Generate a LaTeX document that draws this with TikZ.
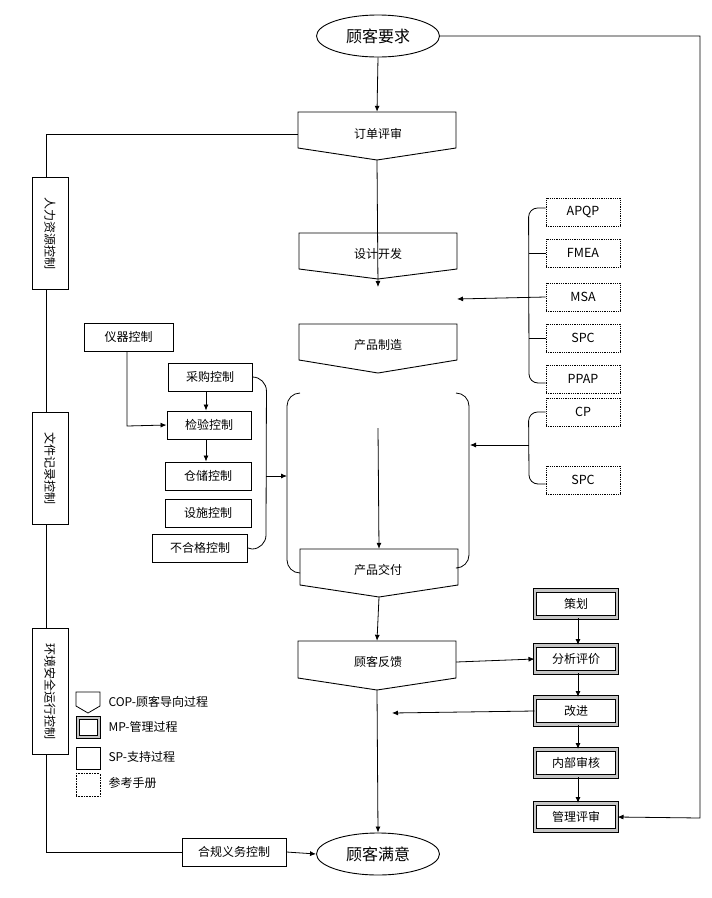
\documentclass[tikz,border=0pt]{standalone}
\usepackage{fontspec}
\setmainfont{Noto Sans CJK SC}
\usetikzlibrary{arrows.meta,shapes.geometric}
\tikzset{
  every node/.style={font=\fontsize{12}{14}\selectfont},
  ln/.style={line width=0.8pt},
  arr/.style={ln,-{Latex[length=6pt,width=5pt]}},
  sp/.style={draw,line width=0.9pt,minimum width=#1,minimum height=28pt,inner sep=0pt},
  ref/.style={draw,densely dotted,line width=0.8pt,minimum width=74pt,minimum height=28pt,inner sep=0pt,font=\fontsize{12.5}{14}\selectfont},
  mp/.style={draw,line width=1pt,double=gray!45,double distance=2.4pt,minimum width=82pt,minimum height=27pt,inner sep=0pt},
  ell/.style={draw,ellipse,line width=0.9pt,minimum width=123pt,minimum height=42pt,font=\fontsize{16}{18}\selectfont},
  vbox/.style={draw,line width=0.9pt,minimum width=36pt,inner sep=0pt},
}
\newcommand{\copshape}[6]{% name, x1, x2, ytop, yside, ypoint
  \draw[line width=0.9pt] (#2,#4) -- (#3,#4) -- (#3,#5) -- ({(#2+#3)/2},#6) -- (#2,#5) -- cycle;
  \node[inner sep=0pt,minimum width={#3-#2},minimum height={#6-#4}] (#1) at ({(#2+#3)/2},{(#4+#6)/2}) {};
}
\begin{document}
\begin{tikzpicture}[x=1pt,y=-1pt]
\useasboundingbox (0,0) rectangle (712,898);
\node[ell] (req) at (378,36) {顾客要求};
\node[ell] (sat) at (378,854) {顾客满意};
\copshape{ord}{298}{456}{112}{148}{160}
\node at (378,134) {订单评审};
\copshape{des}{299}{457}{233}{269}{279}
\node at (378,254) {设计开发};
\copshape{mfg}{299}{457}{324}{360}{373}
\node at (378,345) {产品制造};
\copshape{dlv}{300}{458}{549}{585}{597}
\node at (378,570) {产品交付};
\copshape{fb}{298}{456}{641}{678}{690}
\node at (378,662) {顾客反馈};
\draw[arr] (req.south) -- (ord.north);
\draw[arr] (ord.south) -- (378,287);
\coordinate (ctop) at (378,428);
\draw[arr] (ctop) -- (dlv.north);
\draw[arr] (dlv.south) -- (fb.north);
\draw[arr] (fb.south) -- (sat.north);
\node[ref] (apqp) at (583,212) {APQP};
\node[ref] (fmea) at (583,253) {FMEA};
\node[ref] (msa)  at (583,297) {MSA};
\node[ref] (spc1) at (583,338) {SPC};
\node[ref] (ppap) at (583,379) {PPAP};
\node[ref] (cp)   at (583,412) {CP};
\node[ref] (spc2) at (583,480) {SPC};
\draw[ln] (apqp.west) ++(0,-4) -- ++(-8,0) arc[start angle=90,end angle=180,radius=9pt] -- (529,374) arc[start angle=180,end angle=270,radius=9pt] -- (ppap.west|-0,383);
\draw[ln] (529,253) -- (fmea.west);
\draw[ln] (529,338) -- (spc1.west);
\coordinate (dpt) at (457,299);
\draw[arr] (msa.west) -- (dpt);
\draw[ln] (cp.west) -- ++(-8,0) arc[start angle=90,end angle=180,radius=9pt] -- (529,475) arc[start angle=180,end angle=270,radius=9pt] -- (spc2.west|-0,484);
\coordinate (rb) at (470,445);
\draw[arr] (529,445) -- (rb);
\draw[ln] (300,393) arc[start angle=90,end angle=180,radius=13pt] -- (287,560) arc[start angle=180,end angle=270,radius=13pt] -- (dlv.west|-0,573);
\draw[ln] (456,393) arc[start angle=90,end angle=0,radius=13pt] -- (469,555) arc[start angle=0,end angle=-90,radius=13pt] -- (dlv.east|-0,568);
\node[sp=89pt] (inst) at (128.5,337) {仪器控制};
\node[sp=84pt] (pur) at (210,377) {采购控制};
\node[sp=84pt] (insp) at (209,425) {检验控制};
\node[sp=86pt] (stor) at (208,476) {仓储控制};
\node[sp=86pt] (fac) at (208,513) {设施控制};
\node[sp=95pt] (ncr) at (200,548) {不合格控制};
\draw[arr] (inst.south-|127,0) -- (127,426) -- (insp.west);
\draw[arr] (pur.south-|206,0) -- (insp.north-|206,0);
\draw[arr] (insp.south-|206,0) -- (stor.north-|206,0);
\draw[ln] (pur.east) arc[start angle=90,end angle=0,radius=14pt] -- (266,535) arc[start angle=0,end angle=-90,radius=14pt] -- (ncr.east);
\coordinate (bl) at (287,476);
\draw[arr] (266,476) -- (bl);
\node[vbox,minimum height=112pt] (hr) at (50,233) {};
\node[rotate=-90] at (hr) {人力资源控制};
\node[vbox,minimum height=112pt] (doc) at (50,468) {};
\node[rotate=-90] at (doc) {文件记录控制};
\node[vbox,minimum height=126pt] (env) at (50,691) {};
\node[rotate=-90] at (env) {环境安全运行控制};
\node[sp=104pt] (comp) at (234,852) {合规义务控制};
\draw[ln] (ord.west|-0,134) -- (46,134) -- (hr.north-|46,0);
\draw[ln] (hr.south-|46,0) -- (doc.north-|46,0);
\draw[ln] (doc.south-|46,0) -- (env.north-|46,0);
\draw[ln] (env.south-|46,0) -- (46,852) -- (comp.west);
\draw[arr] (comp.east) -- (sat.west);
\node[mp] (plan) at (576,604) {策划};
\node[mp] (ana) at (576,659) {分析评价};
\node[mp] (imp) at (576,711) {改进};
\node[mp] (aud) at (576,763) {内部审核};
\node[mp] (rev) at (576,817) {管理评审};
\draw[arr] (plan.south-|578,0) -- (ana.north-|578,0);
\draw[arr] (ana.south-|578,0) -- (imp.north-|578,0);
\draw[arr] (imp.south-|578,0) -- (aud.north-|578,0);
\draw[arr] (aud.south-|578,0) -- (rev.north-|578,0);
\draw[arr] (fb.east|-0,662) -- (ana.west);
\coordinate (ipt) at (392,713);
\draw[arr] (imp.west) -- (ipt);
\draw[arr] (req.east) -- (700,36) -- (700,818) -- (rev.east);
\draw[line width=0.8pt] (76,692) -- (100,692) -- (100,706) -- (88,713) -- (76,706) -- cycle;
\node[anchor=west] (l1) at (105,702) {COP-顾客导向过程};
\node[draw,line width=1pt,double=gray!45,double distance=2pt,minimum width=21pt,minimum height=19pt,inner sep=0pt] (lg2) at (88,727) {};
\node[anchor=west] (l2) at (105,727) {MP-管理过程};
\node[draw,line width=0.8pt,minimum width=24pt,minimum height=22pt,inner sep=0pt] (lg3) at (88,758) {};
\node[anchor=west] (l3) at (105,757) {SP-支持过程};
\node[draw,densely dotted,line width=0.6pt,minimum width=24pt,minimum height=23pt,inner sep=0pt] (lg4) at (88,785) {};
\node[anchor=west] (l4) at (105,783) {参考手册};
\end{tikzpicture}
\end{document}
